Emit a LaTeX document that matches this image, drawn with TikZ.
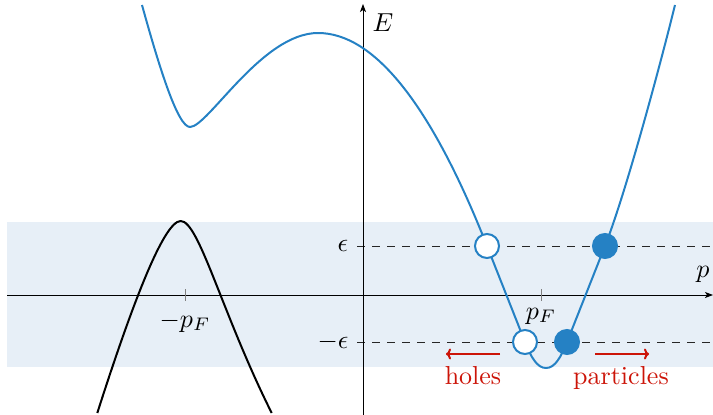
\documentclass[tikz,border=0pt]{standalone}
\usetikzlibrary{arrows.meta}
\definecolor{bandblue}{RGB}{37,129,196}
\definecolor{bandshade}{RGB}{231,239,247}
\definecolor{redlab}{RGB}{204,20,8}
\begin{document}
\begin{tikzpicture}[x=1pt,y=-1pt,
  lbl/.style={inner sep=0pt,scale=2.6},
  axisline/.style={line width=1pt,-{Stealth[length=8pt,width=6pt,inset=2pt]}},
  levelline/.style={line width=1pt,dash pattern=on 8pt off 7pt,black!85},
  hole/.style={circle,draw=bandblue,fill=white,line width=2pt,minimum size=24pt,inner sep=0pt},
  particle/.style={circle,draw=bandblue,fill=bandblue,line width=2pt,minimum size=24pt,inner sep=0pt},
  redarrow/.style={redlab,line width=2pt,-{To[length=5pt,width=11pt]}},
  redlabel/.style={lbl,text=redlab},
  tickmark/.style={line width=0.6pt,black!50}
]
\useasboundingbox (0,0) rectangle (713,415);
% shaded band
\fill[bandshade] (7,222) rectangle (713,367);
% dashed levels
\coordinate (epsL) at (357,246);
\coordinate (epsR) at (713,246);
\coordinate (mepsL) at (357,342);
\coordinate (mepsR) at (713,342);
\draw[levelline] (epsL) -- (epsR);
\draw[levelline] (mepsL) -- (mepsR);
% axes
\coordinate (xL) at (7,295);
\coordinate (xR) at (713,295);
\coordinate (yB) at (363,415);
\coordinate (yT) at (363,4);
\draw[axisline] (xL) -- (xR);
\draw[axisline] (yB) -- (yT);
% ticks
\draw[tickmark] (541,289) -- (541,301);
\draw[tickmark] (185,289) -- (185,301);
% labels
\node[lbl,anchor=west] (E) at (372,23) {$E$};
\node[lbl] (p) at (703,274) {$p$};
\node[lbl] (eps) at (343,246) {$\epsilon$};
\node[lbl] (meps) at (333,342) {$-\epsilon$};
\node[lbl] (pF) at (541,316) {$p_F$};
\node[lbl] (mpF) at (185,322) {$-p_F$};
% black curve
\draw[line width=2pt,black,line join=round]
  (97.3,413) .. controls (129.3,313) and (163,221) .. (180.7,221)
  .. controls (199,221) and (221.7,313) .. (271.7,413);
% blue curve
\draw[line width=2pt,bandblue,line join=round]
  (142,5) .. controls (160,70) and (178,127) .. (190,127)
  .. controls (208,127) and (262,33) .. (318,33)
  .. controls (374,33) and (431,104) .. (487,246)
  -- (525,342)
  .. controls (531,357) and (537,368) .. (546,368)
  .. controls (555,368) and (561,357) .. (567,342)
  -- (605,246)
  .. controls (627,190) and (663,54) .. (675,5);
% holes and particles
\node[hole] (h1) at (487,246) {};
\node[particle] (p1) at (605,246) {};
\node[hole] (h2) at (525,342) {};
\node[particle] (p2) at (567,342) {};
% red arrows
\coordinate (hA) at (500,354);
\coordinate (hB) at (446,354);
\coordinate (pA) at (595,354);
\coordinate (pB) at (649,354);
\draw[redarrow] (hA) -- (hB);
\draw[redarrow] (pA) -- (pB);
\node[redlabel,anchor=base] (holes) at (473,384) {holes};
\node[redlabel,anchor=base] (parts) at (621,384) {particles};
\end{tikzpicture}
\end{document}
